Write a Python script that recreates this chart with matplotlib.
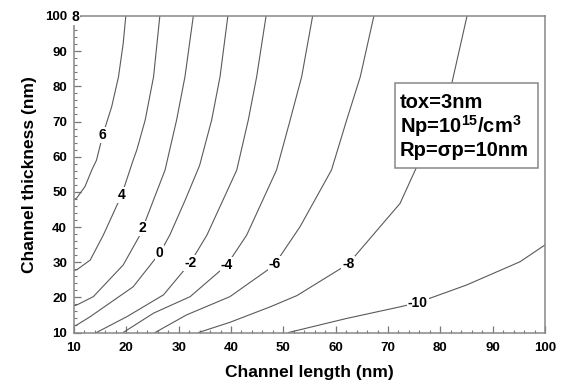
import matplotlib
matplotlib.use("Agg")
import matplotlib.pyplot as plt
from matplotlib.ticker import MultipleLocator

plt.rcParams['font.family'] = ['Liberation Sans', 'DejaVu Sans']
plt.rcParams['mathtext.fontset'] = 'custom'
plt.rcParams['mathtext.rm'] = 'Liberation Sans:bold'
plt.rcParams['mathtext.bf'] = 'Liberation Sans:bold'
plt.rcParams['mathtext.it'] = 'Liberation Sans:bold'

# ---- data: contour polylines (x = channel length, y = channel thickness)
LEVELS = [8, 6, 4, 2, 0, -2, -4, -6, -8, -10]

C8_X = [10.0, 10.4]
C8_Y = [99.0, 100.0]
C6_X = [10.0, 10.5, 12.1, 13.4, 14.3, 15.5, 17.2, 18.5, 19.4, 19.9]
C6_Y = [47.8, 48.2, 51.5, 56.2, 59.0, 66.2, 74.2, 82.7, 92.2, 100.0]
C4_X = [10.0, 10.5, 13.1, 15.6, 19.1, 21.3, 22.0, 23.6, 25.2, 26.4]
C4_Y = [27.7, 27.8, 30.6, 37.7, 49.1, 59.0, 61.9, 70.4, 82.7, 100.0]
C2_X = [10.0, 10.5, 13.7, 19.4, 22.6, 23.1, 27.4, 29.6, 31.2, 32.8]
C2_Y = [17.6, 17.8, 20.2, 29.2, 37.7, 39.6, 56.2, 70.4, 82.7, 100.0]
C0_X = [10.0, 10.5, 13.1, 21.3, 26.4, 28.3, 31.2, 34.0, 36.3, 37.9, 39.4]
C0_Y = [11.9, 12.1, 14.5, 23.0, 32.6, 37.7, 47.5, 57.5, 70.4, 82.7, 100.0]
CM2_X = [14.3, 20.1, 27.1, 32.2, 35.4, 41.1, 43.3, 44.9, 46.7]
CM2_Y = [10.0, 14.5, 20.7, 29.8, 37.7, 56.2, 70.4, 82.7, 100.0]
CM4_X = [19.4, 25.2, 32.2, 39.2, 43.0, 48.7, 51.3, 53.5, 55.6]
CM4_Y = [10.0, 15.5, 20.2, 29.2, 37.7, 56.2, 70.4, 82.7, 100.0]
CM6_X = [25.5, 31.5, 39.8, 47.5, 48.4, 53.2, 59.2, 62.1, 64.7, 67.3]
CM6_Y = [10.0, 15.0, 20.2, 28.3, 29.5, 40.1, 56.2, 70.4, 82.7, 100.0]
CM8_X = [33.8, 39.8, 47.5, 52.6, 62.4, 68.5, 72.3, 75.3, 78.7, 82.2, 85.1]
CM8_Y = [10.0, 12.9, 17.3, 20.5, 29.5, 40.1, 46.7, 56.5, 68.0, 80.9, 100.0]
CM10_X = [51.0, 62.1, 72.3, 75.7, 85.0, 95.2, 100.0]
CM10_Y = [10.0, 14.0, 17.3, 18.5, 23.5, 30.1, 34.9]

# contour label anchor points
LABEL_X = [10.3, 15.5, 19.1, 23.1, 26.4, 32.2, 39.2, 48.4, 62.4, 75.7]
LABEL_Y = [99.6, 66.2, 49.1, 39.6, 32.6, 29.8, 29.2, 29.5, 29.5, 18.5]

X_LABEL = "Channel length (nm)"
Y_LABEL = "Channel thickness (nm)"
NOTE_LINES = ["tox=3nm", r"Np=10$^{15}$/cm$^{3}$", "Rp=σp=10nm"]

curves = [(C8_X, C8_Y), (C6_X, C6_Y), (C4_X, C4_Y), (C2_X, C2_Y), (C0_X, C0_Y),
          (CM2_X, CM2_Y), (CM4_X, CM4_Y), (CM6_X, CM6_Y), (CM8_X, CM8_Y), (CM10_X, CM10_Y)]

W, H = 570, 387
fig = plt.figure(figsize=(W / 100, H / 100), dpi=100)
ax = fig.add_axes([74 / W, 1 - 332.5 / H, (545 - 74) / W, (332.5 - 16) / H])

line_color = '#5a5a5a'
for (xs, ys) in curves:
    ax.plot(xs, ys, color=line_color, lw=0.8, solid_joinstyle='round')

for lev, lx, ly in zip(LEVELS, LABEL_X, LABEL_Y):
    ax.text(lx, ly, str(lev).replace('\u2212', '-'), ha='center', va='center',
            fontsize=10, fontweight='bold', color='black', zorder=5,
            bbox=dict(boxstyle='square,pad=0.05', fc='white', ec='none'))

ax.set_xlim(10, 100)
ax.set_ylim(10, 100)
ax.xaxis.set_major_locator(MultipleLocator(10))
ax.yaxis.set_major_locator(MultipleLocator(10))
ax.xaxis.set_minor_locator(MultipleLocator(2))
ax.yaxis.set_minor_locator(MultipleLocator(2))
ax.tick_params(which='both', direction='in', top=False, right=False, color='#777777')
ax.tick_params(which='major', length=5, width=0.9, pad=7, labelsize=9.5)
ax.tick_params(which='minor', length=2.5, width=0.8)
ax.tick_params(axis='y', which='major', pad=5)
for lab in ax.get_xticklabels() + ax.get_yticklabels():
    lab.set_fontweight('bold')

for sp in ax.spines.values():
    sp.set_color('#888888')
    sp.set_linewidth(1.1)

ax.set_xlabel(X_LABEL, fontsize=12.5, fontweight='bold', labelpad=8)
ax.set_ylabel(Y_LABEL, fontsize=12.5, fontweight='bold', labelpad=6)

# annotation box
bx0, by0, bx1, by1 = 395, 83, 538, 168
box = plt.Rectangle((bx0 / W, 1 - by1 / H), (bx1 - bx0) / W, (by1 - by0) / H,
                    transform=fig.transFigure, facecolor='white', edgecolor='#888888',
                    lw=1.1, zorder=10)
fig.patches.append(box)
for i, t in enumerate(NOTE_LINES):
    fig.text(400 / W, 1 - (102 + 24 * i) / H, t, fontsize=14.5, fontweight='bold',
             ha='left', va='center', zorder=11)

fig.savefig('out.png', dpi=100)
